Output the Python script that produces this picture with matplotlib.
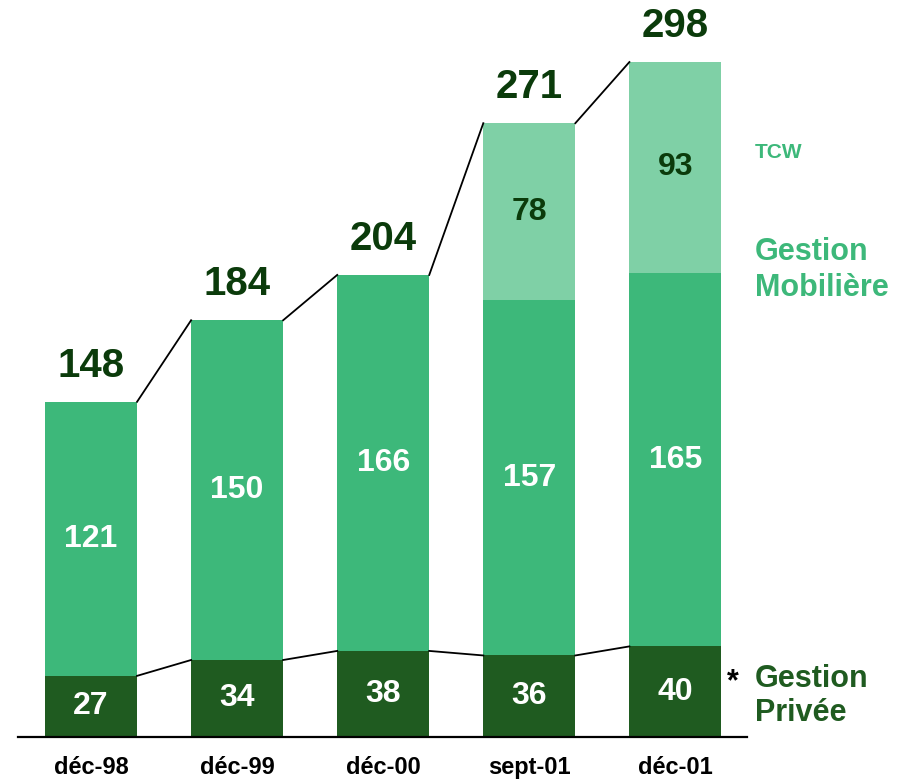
import matplotlib
matplotlib.use('Agg')
import matplotlib.pyplot as plt
import numpy as np

plt.rcParams['font.family'] = ['Liberation Sans', 'DejaVu Sans']

categories = ['déc-98', 'déc-99', 'déc-00', 'sept-01', 'déc-01']
privee = [27, 34, 38, 36, 40]
mobiliere = [121, 150, 166, 157, 165]
tcw = [0, 0, 0, 78, 93]
totals = [148, 184, 204, 271, 298]

c_dark = '#1f5b20'
c_mid = '#3db87a'
c_light = '#7fd0a6'
c_total = '#0b3b0b'

W, H = 908, 783
fig = plt.figure(figsize=(W / 100, H / 100), dpi=100)
ax = fig.add_axes([18 / W, (H - 737) / H, (747 - 18) / W, 737 / H])

x = np.arange(len(categories))
bw = 0.63
priv = np.array(privee)
mob = np.array(mobiliere)
tc = np.array(tcw)

ax.bar(x, priv, bw, color=c_dark, linewidth=0)
ax.bar(x, mob, bw, bottom=priv, color=c_mid, linewidth=0)
ax.bar(x, tc, bw, bottom=priv + mob, color=c_light, linewidth=0)

# connector lines between bars
tops = priv + mob + tc
for i in range(len(x) - 1):
    ax.plot([x[i] + bw / 2, x[i + 1] - bw / 2], [tops[i], tops[i + 1]],
            color='black', lw=1.3)
    ax.plot([x[i] + bw / 2, x[i + 1] - bw / 2], [priv[i], priv[i + 1]],
            color='black', lw=1.3)

for i in range(len(x)):
    ax.text(x[i], priv[i] / 2, str(privee[i]), ha='center', va='center',
            color='white', fontsize=23, fontweight='bold')
    ax.text(x[i], priv[i] + mob[i] / 2, str(mobiliere[i]), ha='center',
            va='center', color='white', fontsize=23, fontweight='bold')
    if tcw[i]:
        ax.text(x[i], priv[i] + mob[i] + tc[i] / 2, str(tcw[i]), ha='center',
                va='center', color=c_total, fontsize=23, fontweight='bold')
    ax.text(x[i], tops[i] + 16, str(totals[i]), ha='center', va='center',
            color=c_total, fontsize=29, fontweight='bold')

ax.set_xlim(-0.5, 4.49)
ax.set_ylim(0, 737 / 2.265)
for s in ['top', 'right', 'left']:
    ax.spines[s].set_visible(False)
ax.spines['bottom'].set_linewidth(1.6)
ax.set_yticks([])
ax.set_xticks(x)
ax.set_xticklabels(categories, fontsize=17, fontweight='bold')
ax.tick_params(axis='x', length=0, pad=14)

def fy(py):
    return 1 - py / H

fig.text(755 / W, fy(153), 'TCW', color=c_mid, fontsize=15,
         fontweight='bold', va='center')
fig.text(755 / W, fy(270), 'Gestion\nMobilière', color=c_mid, fontsize=22,
         fontweight='bold', va='center', linespacing=1.25)
fig.text(755 / W, fy(696), 'Gestion\nPrivée', color=c_dark, fontsize=22,
         fontweight='bold', va='center', linespacing=1.2)
fig.text(727 / W, fy(682), '*', color='black', fontsize=22,
         fontweight='bold', va='center')

fig.savefig('out.png', dpi=100)
